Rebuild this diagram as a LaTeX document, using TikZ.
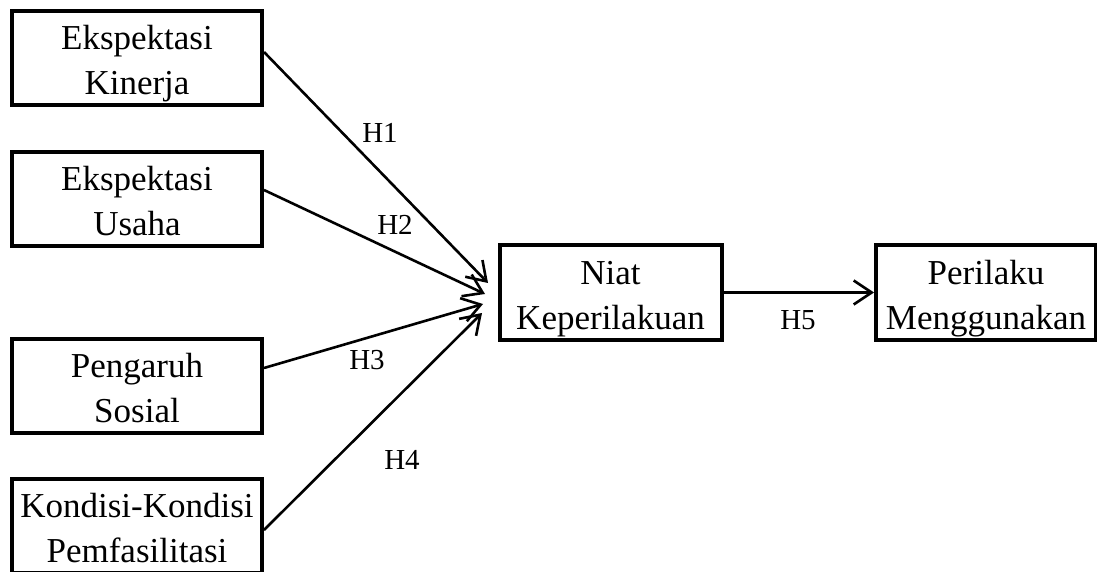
\documentclass[tikz,border=0pt]{standalone}
\usepackage{fontspec}
\setmainfont{Liberation Serif}
\usetikzlibrary{arrows.meta}
\newcommand{\twolines}[2]{#1\rule{0pt}{19pt}\\#2\rule[-5pt]{0pt}{5pt}}
\tikzset{
  var/.style={draw, line width=2pt, align=center, minimum width=125pt,
    minimum height=47pt, inner sep=0pt, font=\fontsize{17.5}{22.5}\selectfont},
  hyp/.style={-{Straight Barb[length=9pt,width=12pt,line width=1.3pt]}, line width=1.3pt},
  lbl/.style={font=\fontsize{14.5}{16}\selectfont, inner sep=0pt}
}
\begin{document}
\begin{tikzpicture}[x=0.5pt,y=-0.5pt]
      \useasboundingbox (0,0) rectangle (1097,572);
      \node[var] (EK) at (137,58) {\twolines{Ekspektasi}{Kinerja}};
      \node[var] (EU) at (137,199) {\twolines{Ekspektasi}{Usaha}};
      \node[var] (PS) at (137,386) {\twolines{Pengaruh}{Sosial}};
      \node[var] (KK) at (137,526) {\twolines{Kondisi-Kondisi}{Pemfasilitasi}};
      \node[var, minimum width=111pt] (NK) at (610.5,292.5) {\twolines{Niat}{Keperilakuan}};
      \node[var, minimum width=110pt] (PM) at (986,292.5) {\twolines{Perilaku}{Menggunakan}};

      \coordinate (t1) at (488,283);
      \coordinate (t2) at (485,294);
      \coordinate (t3) at (483,304);
      \coordinate (t4) at (482,313);

      \draw[hyp] (EK.east |- 0,52) to (t1);
      \draw[hyp] (EU.east |- 0,190) to (t2);
      \draw[hyp] (PS.east |- 0,368) to (t3);
      \draw[hyp] (KK.east |- 0,530) to (t4);
      \draw[hyp] (NK.east) to (PM.west);

      \node[lbl] (H1) at (380,133) {H1};
      \node[lbl] (H2) at (395,225) {H2};
      \node[lbl] (H3) at (367,360) {H3};
      \node[lbl] (H4) at (402,460) {H4};
      \node[lbl] (H5) at (798,320) {H5};
    \end{tikzpicture}
\end{document}
